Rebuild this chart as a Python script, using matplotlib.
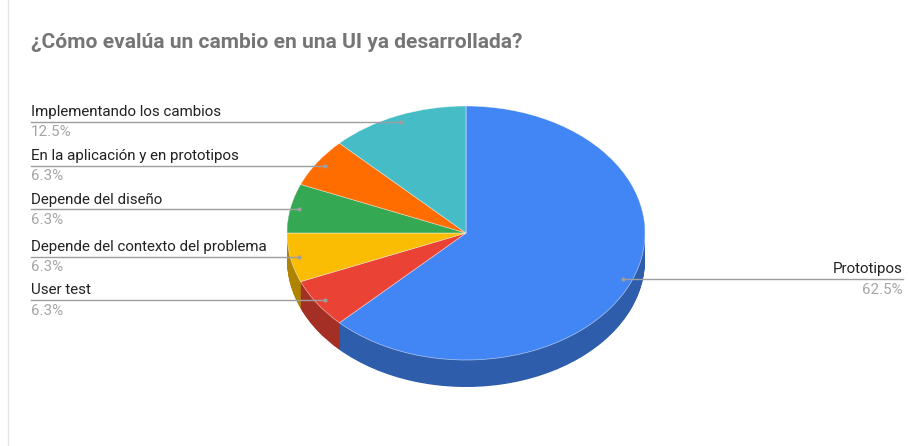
import matplotlib
matplotlib.use("Agg")
import matplotlib.pyplot as plt
from matplotlib.lines import Line2D
from decimal import Decimal, ROUND_HALF_UP
import numpy as np

plt.rcParams['font.family'] = ['Roboto', 'DejaVu Sans']

#-----------------------------------------------------------------------------
title = "¿Cómo evalúa un cambio en una UI ya desarrollada?"
labels = ["Prototipos", "User test", "Depende del contexto del problema",
          "Depende del diseño", "En la aplicación y en prototipos",
          "Implementando los cambios"]
counts = [10, 1, 1, 1, 1, 2]
colors = ["#4285F4", "#EA4335", "#FBBC04", "#34A853", "#FF6D01", "#46BDC6"]

#-----------------------------------------------------------------------------
W, H = 909, 446
cx, cy = 466, 233        # pie centre in pixels
rx, ry = 179, 127        # ellipse radii in pixels
depth = 27               # thickness of the pie side in pixels

fig = plt.figure(figsize=(W/100, H/100), dpi=100)
fig.patch.set_facecolor("white")
ax = fig.add_axes([0, 0, 1, 1])

def darker(c, f=0.7):
    r, g, b = matplotlib.colors.to_rgb(c)
    return (r*f, g*f, b*f)

side_colors = [darker(c) for c in colors]

# side: stack of shifted pies
dz = depth/ry
nlay = 40
for k in range(nlay, 0, -1):
    ax.pie(counts, colors=side_colors, startangle=90, counterclock=False,
           radius=1, center=(0, -dz*k/nlay),
           wedgeprops=dict(linewidth=0, antialiased=True), frame=True)

# top face
wedges, _ = ax.pie(counts, colors=colors, startangle=90, counterclock=False,
                   radius=1, center=(0, 0),
                   wedgeprops=dict(linewidth=0.5, edgecolor=(1, 1, 1, 0.6)),
                   frame=True)

ax.set_aspect("auto")
ax.set_xlim(-cx/rx, (W - cx)/rx)
ax.set_ylim(-(H - cy)/ry, cy/ry)
ax.axis("off")

# leader lines + labels
total = sum(counts)
tr = ax.get_yaxis_transform()
for w, lab, n in zip(wedges, labels, counts):
    mid = np.deg2rad((w.theta1 + w.theta2)/2)
    dx, dy = 0.95*np.cos(mid), 0.95*np.sin(mid)
    pct = Decimal(100*n)/Decimal(total)
    pct = "{}%".format(pct.quantize(Decimal("0.1"), rounding=ROUND_HALF_UP))
    if dx < 0:
        xt, ha = 31/W, "left"
    else:
        xt, ha = 903/W, "right"
    # line from dot to label column
    x_lab = ax.transData.inverted().transform(ax.transAxes.transform((xt, 0)))[0]
    ax.plot([dx, x_lab], [dy, dy], color="#9e9e9e", lw=1, zorder=5)
    ax.plot([dx], [dy], marker="o", ms=3, color="#9e9e9e", mec="none", zorder=6)
    ax.annotate(lab, xy=(xt, dy), xycoords=tr, xytext=(0, 2),
                textcoords="offset points", ha=ha, va="bottom",
                fontsize=10.9, color="#222222")
    ax.annotate(pct, xy=(xt, dy), xycoords=tr, xytext=(0, -2.5),
                textcoords="offset points", ha=ha, va="top",
                fontsize=10.9, color="#a6a6a6")

fig.text(31/W, 1 - 42/H, title, ha="left", va="center",
         fontsize=15.1, fontweight="bold", color="#757575")

# faint left border of the chart card
fig.add_artist(Line2D([8/W, 8/W], [0, 1], color="#e6e6e6", lw=1,
                      transform=fig.transFigure))

fig.savefig("out.png", dpi=100)
